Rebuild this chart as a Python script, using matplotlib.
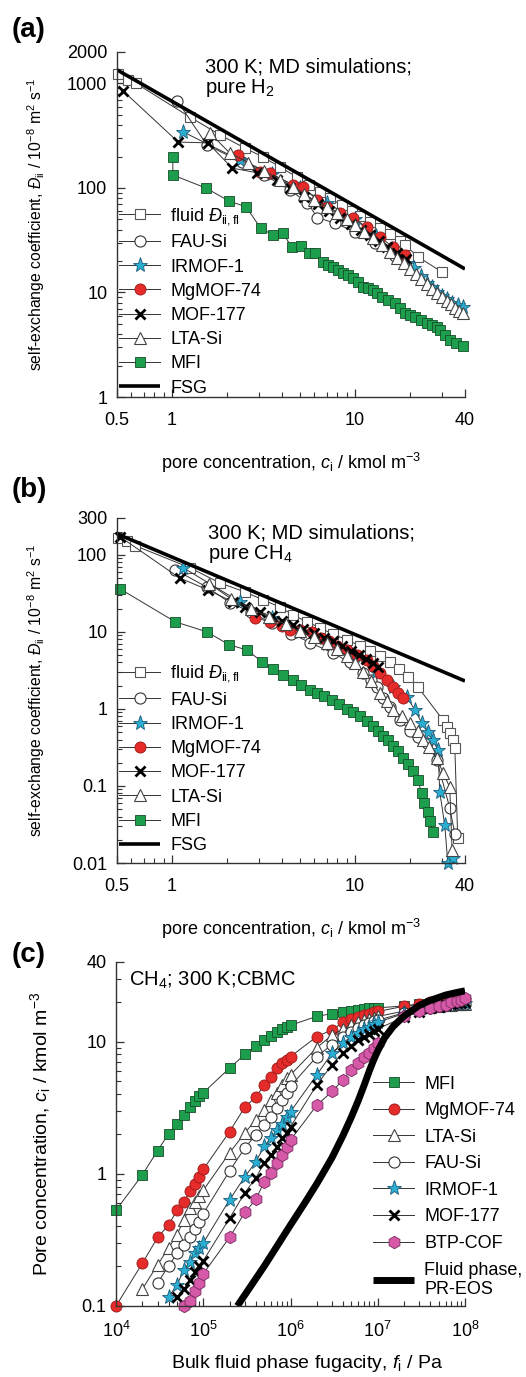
import matplotlib
matplotlib.use("agg")
import matplotlib.pyplot as plt

plt.rcParams["font.family"] = "Liberation Sans"
plt.rcParams["mathtext.fontset"] = "custom"
plt.rcParams["mathtext.rm"] = "Liberation Sans"
plt.rcParams["mathtext.it"] = "Liberation Sans:italic"
plt.rcParams["mathtext.bf"] = "Liberation Sans:bold"

# ---------------- (a) H2 self-exchange coefficients ----------------
fluid_a_c = [0.507, 0.575, 0.636, 1.25, 1.83, 2.5, 3.14, 3.89, 4.82, 5.6, 6.44, 7.3, 8.5, 9.6,
             10.6, 12.1, 13.7, 15.5, 17.6, 18.8, 22.1, 29.9]
fluid_a_D = [1233, 1080, 1000, 478, 322, 241, 198, 159, 127, 107, 92, 80, 68, 60,
             54, 47, 41, 36, 31, 28.5, 22, 15.7]
fau_a_c = [1.07, 1.55, 2.4, 3.2, 4.4, 5.5, 6.24, 7.8, 10, 12.9, 16.5]
fau_a_D = [680, 258, 177, 133, 96, 72, 52, 46, 38, 30, 22.5]
irmof_a_c = [1.15, 2.35, 3.5, 5.0, 7.0, 10.0, 13.0, 16.0, 19.2, 21.0, 23.0, 24.7, 26.5, 28.0,
             30.0, 32.0, 34.0, 36.5, 38.9]
irmof_a_D = [344, 185, 135, 100, 72, 50, 35, 26, 19.1, 17, 14.5, 12.3, 11.2, 10.2,
             9.3, 8.6, 8.0, 7.6, 7.3]
mg_a_c = [2.29, 3.03, 3.43, 4.58, 5.2, 6.2, 7.03, 8.28, 9.75, 11.6, 13.7, 16.1, 18.8]
mg_a_D = [207, 142, 139, 107, 102, 77, 66, 57.6, 51.6, 42.4, 34, 27.3, 22.8]
mof_a_c = [0.54, 1.08, 1.57, 2.13, 2.9, 3.74, 4.42, 5.3, 6.3, 7.2, 8.3, 9.5, 10.8, 12.1,
           13.5, 15.0, 17.0, 19.0]
mof_a_D = [848, 275, 270, 155, 140, 119, 100, 82, 70, 60, 52, 45, 40, 35.6,
           31, 27.5, 24, 21]
lta_a_c = [1.61, 2.07, 2.6, 3.2, 3.9, 4.6, 5.3, 6.0, 7.0, 8.0, 9.0, 10.0, 11.2, 12.5, 14.0,
           15.5, 17.0, 18.5, 20.0, 21.5, 23.0, 24.7, 26.5, 28.1, 30.0, 31.8, 33.5, 35.3, 37.0, 38.9]
lta_a_D = [336, 216, 175, 145, 120, 103, 88, 76, 66, 57, 50, 44, 38, 33, 28.5,
           24.5, 21.5, 19, 16.8, 15, 13.5, 12, 10.8, 9.8, 9.0, 8.3, 7.7, 7.1, 6.7, 6.4]
mfi_a_c = [1.01, 1.01, 1.53, 2.05, 2.54, 3.06, 3.57, 4.04, 4.52, 5.06, 5.6, 6.04, 6.68, 7.1,
           7.59, 8.1, 8.6, 9.2, 9.75, 10.4, 11.1, 11.8, 12.5, 13.2, 14.0, 15.2, 16.5, 17.6,
           18.8, 20.0, 21.3, 23.0, 24.7, 26.3, 28.1, 29.1, 31.0, 33.0, 35.5, 38.9]
mfi_a_D = [198, 133, 100, 75, 66, 41, 35.5, 37, 27, 28, 24, 24, 19.6, 18.5,
           17.5, 16.5, 15.4, 14.6, 13.8, 12.5, 11.3, 11.0, 10.6, 9.8, 9.06, 8.5, 7.9, 7.1,
           6.4, 6.1, 5.8, 5.4, 5.1, 4.9, 4.7, 4.4, 3.9, 3.5, 3.3, 3.08]
fsg_c = [0.5, 40]
fsg_a_D = [1350, 16.8]

# ---------------- (b) CH4 self-exchange coefficients ----------------
fluid_b_c = [0.507, 0.57, 0.63, 1.25, 1.83, 2.5, 3.14, 3.89, 4.6, 5.46, 6.44, 7.59, 9.04, 10.6,
             12.1, 13.7, 15.5, 17.4, 19.5, 22.0, 30.3, 31.8, 33.0, 34.3, 35.2, 36.5]
fluid_b_D = [166, 150, 131, 68, 43, 33, 26, 21, 16.5, 13.5, 11.3, 9.3, 7.9, 6.6,
             5.6, 4.8, 4.1, 3.3, 2.6, 1.95, 0.72, 0.58, 0.49, 0.40, 0.31, 0.021]
fau_b_c = [1.04, 1.55, 2.07, 2.7, 3.5, 4.5, 5.7, 7.6, 9.4, 11.1, 12.2, 13.2, 14.3, 15.5,
           17.6, 20.0, 22.0, 24.7, 28.0, 33.0, 35.2]
fau_b_D = [64, 38, 24, 18, 13, 9.5, 7.2, 5.3, 4.0, 2.9, 2.4, 1.9, 1.4, 1.05,
           0.72, 0.52, 0.43, 0.36, 0.22, 0.052, 0.024]
irmof_b_c = [1.15, 2.35, 3.5, 5.0, 7.0, 10.0, 13.0, 16.1, 19.2, 21.3, 23.2, 25.0, 26.6, 28.5,
             29.1, 31.0, 32.2, 34.3]
irmof_b_D = [68, 24.5, 15, 10, 7, 4.8, 3.0, 1.93, 1.43, 0.97, 0.66, 0.50, 0.40, 0.29,
             0.084, 0.031, 0.0101, 0.0116]
mg_b_c = [2.84, 3.43, 4.0, 4.42, 5.0, 5.8, 6.5, 7.2, 8.0, 9.04, 10.3, 11.6, 12.6, 13.7,
          14.9, 16.1, 17.2, 18.3]
mg_b_D = [15.2, 13.5, 11.8, 10.6, 10.5, 10, 8.4, 7.5, 6.5, 5.8, 5.0, 4.3, 3.6, 2.9,
          2.4, 1.93, 1.6, 1.39]
mof_b_c = [0.52, 1.1, 1.57, 2.15, 2.5, 3.03, 3.5, 4.0, 4.6, 5.2, 6.0, 6.8, 7.6, 8.5,
           9.5, 10.5, 11.5, 12.5, 13.4]
mof_b_D = [171, 50, 35, 24.5, 21, 18.2, 16, 14, 12.3, 11, 9.6, 8.4, 7.5, 6.5,
           5.7, 5.0, 4.4, 3.96, 3.5]
lta_b_c = [1.6, 2.1, 2.7, 3.4, 4.2, 5.0, 6.0, 7.0, 8.0, 9.0, 10.0, 11.1, 12.3, 13.7,
           15.0, 16.1, 18.0, 20.0, 22.0, 23.5, 25.5, 28.1, 30.3, 33.0, 34.0]
lta_b_D = [42, 27, 20, 15.5, 12.5, 10.2, 8.6, 7.2, 6.0, 4.9, 3.9, 3.0, 2.3, 1.6,
           1.25, 0.97, 0.8, 0.66, 0.52, 0.40, 0.32, 0.23, 0.148, 0.097, 0.0147]
mfi_b_c = [0.52, 1.04, 1.55, 2.05, 2.57, 3.1, 3.57, 4.04, 4.6, 5.1, 5.7, 6.2, 6.8, 7.5,
           8.2, 9.0, 9.8, 10.7, 11.6, 12.5, 13.4, 14.3, 15.2, 16.1, 17.2, 18.3, 19.5, 20.7,
           22.0, 23.2, 24.0, 25.0, 25.8, 26.6]
mfi_b_D = [36, 13.5, 10, 6.8, 5.8, 4.1, 3.3, 2.76, 2.38, 2.05, 1.76, 1.61, 1.45, 1.3,
           1.15, 1.0, 0.92, 0.8, 0.7, 0.6, 0.52, 0.45, 0.39, 0.33, 0.28, 0.23, 0.19, 0.155,
           0.12, 0.081, 0.06, 0.046, 0.035, 0.025]
fsg_b_D = [187, 2.3]

# ---------------- (c) CH4 adsorption isotherms, CBMC ----------------
fug = [1e4, 2e4, 3e4, 4e4, 5e4, 6e4, 7e4, 8e4, 9e4,
       1e5, 2e5, 3e5, 4e5, 5e5, 6e5, 7e5, 8e5, 9e5,
       1e6, 2e6, 3e6, 4e6, 5e6, 6e6, 7e6, 8e6, 9e6,
       1e7, 2e7, 3e7, 4e7, 5e7, 6e7, 7e7, 8e7, 9e7,
       1e8]
mfi_c = [0.53, 0.98, 1.5, 2.0, 2.4, 2.8, 3.2, 3.55, 3.85,
         4.1, 6.3, 8.0, 9.3, 10.3, 11.1, 11.8, 12.4, 12.9,
         13.3, 15.5, 16.3, 16.8, 17.1, 17.4, 17.6, 17.8, 17.9,
         18.0, 18.6, 19.2, 19.6, 19.9, 20.1, 20.3, 20.4, 20.5,
         20.6]
mg_c = [0.10, 0.21, 0.33, 0.41, 0.53, 0.61, 0.74, 0.84, 0.95,
        1.08, 2.08, 3.2, 3.8, 4.7, 5.4, 6.3, 6.9, 7.3,
        7.7, 10.9, 12.3, 14.0, 14.8, 15.4, 15.9, 16.3, 16.6,
        16.9, 18.5, 19.3, 19.8, 20.2, 20.5, 20.7, 20.9, 21.0,
        21.1]
lta_c = [0.134, 0.205, 0.275, 0.345, 0.45, 0.55, 0.61, 0.68,
         0.75, 1.44, 2.04, 2.56, 3.05, 3.6, 4.1, 4.7, 5.3,
         5.6, 9.0, 11.2, 12.5, 13.4, 14.0, 14.5, 14.9, 15.2,
         15.5, 17.0, 17.8, 18.3, 18.6, 18.8, 19.0, 19.1, 19.2,
         19.3]
fau_c = [0.15, 0.20, 0.25, 0.29, 0.33, 0.38, 0.43,
         0.5, 1.05, 1.57, 1.97, 2.35, 2.7, 3.16, 3.6, 4.1,
         4.6, 7.7, 9.5, 10.9, 11.9, 12.7, 13.3, 13.8, 14.2,
         14.5, 16.5, 17.5, 18.1, 18.5, 18.8, 19.0, 19.2, 19.3,
         19.4]
irmof_c = [0.117, 0.144, 0.188, 0.215, 0.25, 0.275,
           0.30, 0.635, 0.95, 1.23, 1.62, 1.87, 2.15, 2.4, 2.7,
           2.95, 5.6, 8.2, 9.8, 10.9, 11.7, 12.4, 13.0, 13.5,
           14.0, 16.3, 17.5, 18.2, 18.7, 19.0, 19.3, 19.5, 19.6,
           19.7]
mof_c = [0.117, 0.135, 0.157, 0.18, 0.20,
         0.22, 0.46, 0.72, 0.93, 1.21, 1.39, 1.6, 1.85, 2.05,
         2.27, 4.7, 6.7, 8.2, 9.3, 10.2, 10.9, 11.5, 12.0,
         12.5, 15.3, 16.8, 17.8, 18.4, 18.9, 19.2, 19.5, 19.7,
         19.8]
btp_c = [0.10, 0.11, 0.13, 0.15,
         0.175, 0.33, 0.51, 0.64, 0.87, 1.02, 1.2, 1.39, 1.6,
         1.8, 3.3, 4.2, 5.15, 6.1, 6.9, 7.6, 8.2, 9.0,
         9.8, 15.5, 16.9, 18.1, 18.6, 19.0, 19.8, 20.4, 20.8,
         21.2]
pr_f = [2.46e5, 5e5, 1e6, 1.5e6, 2e6, 2.5e6, 3e6, 4e6, 5e6, 6e6, 7e6, 8e6, 9e6, 1e7,
        1.2e7, 1.5e7, 2e7, 3e7, 4e7, 6e7, 8e7, 1e8]
pr_c = [0.1, 0.2, 0.41, 0.62, 0.84, 1.08, 1.33, 1.95, 2.7, 3.6, 4.7, 6.0, 7.3, 8.5,
        10.7, 13.0, 15.6, 18.8, 20.5, 22.5, 23.5, 24.2]

GREEN = "#1c9e4c"
RED = "#e62b2b"
CYAN = "#2aaed2"
PINK = "#d659a8"
LINE = "#333333"

styles = {
    "fluid": dict(marker="s", ms=7, mfc="white", mec="#555555", mew=0.8),
    "FAU-Si": dict(marker="o", ms=8, mfc="white", mec="#333333", mew=0.8),
    "IRMOF-1": dict(marker="*", ms=11, mfc=CYAN, mec="#1d5a78", mew=0.6),
    "MgMOF-74": dict(marker="o", ms=8, mfc=RED, mec="#9a1a1a", mew=0.6),
    "MOF-177": dict(marker="x", ms=7, mfc="black", mec="black", mew=2.0),
    "LTA-Si": dict(marker="^", ms=8, mfc="white", mec="#444444", mew=0.8),
    "MFI": dict(marker="s", ms=7.5, mfc=GREEN, mec="#174d2a", mew=0.6),
    "BTP-COF": dict(marker="h", ms=9, mfc=PINK, mec="#7a2a62", mew=0.6),
}

FS = 13

fig = plt.figure(figsize=(5.26, 13.77), dpi=100)
axA = fig.add_axes([117 / 526, 1 - 397 / 1377, 348 / 526, 345 / 1377])
axB = fig.add_axes([117 / 526, 1 - 863 / 1377, 348 / 526, 345 / 1377])
axC = fig.add_axes([116 / 526, 1 - 1306 / 1377, 349 / 526, 344 / 1377])


def series(ax, x, y, key, label):
    ax.plot(x, y, color=LINE, lw=0.7, label=label, clip_on=False, **styles[key])


def style_axes(ax):
    ax.set_xscale("log")
    ax.set_yscale("log")
    for s in ["top", "right"]:
        ax.spines[s].set_visible(False)
    for s in ["left", "bottom"]:
        ax.spines[s].set_linewidth(1.0)
        ax.spines[s].set_color("#333333")
    ax.tick_params(which="both", direction="in", color="#333333", labelsize=FS)
    ax.tick_params(which="major", length=6, width=0.9)
    ax.tick_params(which="minor", length=3.5, width=0.8)
    ax.tick_params(axis="x", pad=11)
    ax.tick_params(axis="y", pad=7)


conc_label = "pore concentration, $c_\\mathrm{i}$ / kmol m$^{-3}$"
self_label = "self-exchange coefficient, $\\mathit{Đ}_\\mathrm{ii}$ / 10$^{-8}$ m$^2$ s$^{-1}$"
fluid_label = "fluid $\\mathit{Đ}_\\mathrm{ii,fl}$"

# panel (a)
series(axA, fluid_a_c, fluid_a_D, "fluid", fluid_label)
series(axA, fau_a_c, fau_a_D, "FAU-Si", "FAU-Si")
series(axA, irmof_a_c, irmof_a_D, "IRMOF-1", "IRMOF-1")
series(axA, mg_a_c, mg_a_D, "MgMOF-74", "MgMOF-74")
series(axA, mof_a_c, mof_a_D, "MOF-177", "MOF-177")
series(axA, lta_a_c, lta_a_D, "LTA-Si", "LTA-Si")
series(axA, mfi_a_c, mfi_a_D, "MFI", "MFI")
axA.plot(fsg_c, fsg_a_D, color="black", lw=2.6, label="FSG", solid_capstyle="butt")

# panel (b)
series(axB, fluid_b_c, fluid_b_D, "fluid", fluid_label)
series(axB, fau_b_c, fau_b_D, "FAU-Si", "FAU-Si")
series(axB, irmof_b_c, irmof_b_D, "IRMOF-1", "IRMOF-1")
series(axB, mg_b_c, mg_b_D, "MgMOF-74", "MgMOF-74")
series(axB, mof_b_c, mof_b_D, "MOF-177", "MOF-177")
series(axB, lta_b_c, lta_b_D, "LTA-Si", "LTA-Si")
series(axB, mfi_b_c, mfi_b_D, "MFI", "MFI")
axB.plot(fsg_c, fsg_b_D, color="black", lw=2.6, label="FSG", solid_capstyle="butt")

for ax in (axA, axB):
    style_axes(ax)
    ax.set_xlim(0.5, 40)
    ax.set_xticks([0.5, 1, 10, 40], ["0.5", "1", "10", "40"])
    ax.set_xticks([0.6, 0.7, 0.8, 0.9, 2, 3, 4, 5, 6, 7, 8, 9, 20, 30], minor=True)
    ax.set_xticklabels([], minor=True)
    ax.set_xlabel(conc_label, fontsize=FS)
    ax.xaxis.set_label_coords(0.5, -0.155)
    ax.set_ylabel(self_label, fontsize=11.3)
    ax.yaxis.set_label_coords(-0.2, 0.5)

axA.set_ylim(1, 2000)
axA.set_yticks([1, 10, 100, 1000, 2000], ["1", "10", "100", "1000", "2000"])
axA.set_yticks([2, 3, 4, 5, 6, 7, 8, 9, 20, 30, 40, 50, 60, 70, 80, 90,
                200, 300, 400, 500, 600, 700, 800, 900], minor=True)
axA.set_yticklabels([], minor=True)

axB.set_ylim(0.01, 300)
axB.set_yticks([0.01, 0.1, 1, 10, 100, 300], ["0.01", "0.1", "1", "10", "100", "300"])
axB.set_yticks([0.02, 0.03, 0.04, 0.05, 0.06, 0.07, 0.08, 0.09,
                0.2, 0.3, 0.4, 0.5, 0.6, 0.7, 0.8, 0.9,
                2, 3, 4, 5, 6, 7, 8, 9, 20, 30, 40, 50, 60, 70, 80, 90, 200], minor=True)
axB.set_yticklabels([], minor=True)

axA.text(0.253, 0.985, "300 K; MD simulations;\npure H$_2$", transform=axA.transAxes,
         fontsize=14.5, va="top", ha="left", linespacing=1.05)
axB.text(0.262, 0.985, "300 K; MD simulations;\npure CH$_4$", transform=axB.transAxes,
         fontsize=14.5, va="top", ha="left", linespacing=1.05)

for ax, top in ((axA, 0.553), (axB, 0.578)):
    ax.legend(loc="upper left", bbox_to_anchor=(0.005, top), frameon=False, fontsize=FS,
              numpoints=1, handlelength=2.3, handletextpad=0.55, labelspacing=0.4,
              borderpad=0, borderaxespad=0)

# panel (c)
series(axC, fug, mfi_c, "MFI", "MFI")
series(axC, fug, mg_c, "MgMOF-74", "MgMOF-74")
series(axC, fug[1:], lta_c, "LTA-Si", "LTA-Si")
series(axC, fug[2:], fau_c, "FAU-Si", "FAU-Si")
series(axC, fug[3:], irmof_c, "IRMOF-1", "IRMOF-1")
series(axC, fug[4:], mof_c, "MOF-177", "MOF-177")
series(axC, fug[5:], btp_c, "BTP-COF", "BTP-COF")
axC.plot(pr_f, pr_c, color="black", lw=5, label="Fluid phase,\nPR-EOS", solid_capstyle="butt")

style_axes(axC)
axC.set_xlim(1e4, 1e8)
axC.set_ylim(0.1, 40)
axC.set_xticks([1e4, 1e5, 1e6, 1e7, 1e8],
               ["10$^4$", "10$^5$", "10$^6$", "10$^7$", "10$^8$"])
axC.set_xticks([m * d for d in (1e4, 1e5, 1e6, 1e7) for m in (2, 3, 4, 5, 6, 7, 8, 9)],
               minor=True)
axC.set_xticklabels([], minor=True)
axC.set_yticks([0.1, 1, 10, 40], ["0.1", "1", "10", "40"])
axC.set_yticks([0.2, 0.3, 0.4, 0.5, 0.6, 0.7, 0.8, 0.9, 2, 3, 4, 5, 6, 7, 8, 9, 20, 30],
               minor=True)
axC.set_yticklabels([], minor=True)
axC.set_xlabel("Bulk fluid phase fugacity, $f_\\mathrm{i}$ / Pa", fontsize=14)
axC.xaxis.set_label_coords(0.547, -0.138)
axC.set_ylabel("Pore concentration, $c_\\mathrm{i}$ / kmol m$^{-3}$", fontsize=14)
axC.yaxis.set_label_coords(-0.18, 0.5)
axC.text(0.037, 0.977, "CH$_4$; 300 K;CBMC", transform=axC.transAxes,
         fontsize=14.5, va="top", ha="left")
axC.legend(loc="upper left", bbox_to_anchor=(0.736, 0.67), frameon=False, fontsize=FS,
           numpoints=1, handlelength=2.3, handletextpad=0.55, labelspacing=0.53,
           borderpad=0, borderaxespad=0)

fig.text(12 / 526, 1 - 30 / 1377, "(a)", fontsize=20, fontweight="bold", va="center")
fig.text(12 / 526, 1 - 490 / 1377, "(b)", fontsize=20, fontweight="bold", va="center")
fig.text(12 / 526, 1 - 955 / 1377, "(c)", fontsize=20, fontweight="bold", va="center")

fig.savefig("out.png", dpi=100)
plt.close(fig)
